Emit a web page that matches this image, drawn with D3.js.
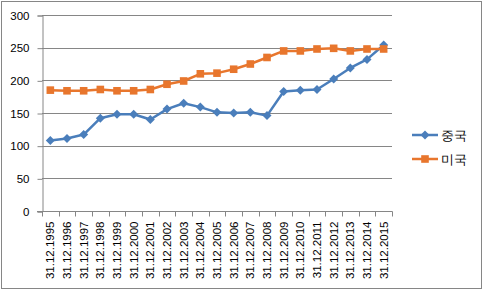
<!DOCTYPE html>
<html>
<head>
<meta charset="utf-8">
<script src="https://cdnjs.cloudflare.com/ajax/libs/d3/7.8.5/d3.min.js"></script>
<style>
  body { margin: 0; background: #fff; }
  svg text { font-family: "Liberation Sans", "DejaVu Sans", sans-serif; fill: #000; }
</style>
</head>
<body>
<div class="chart"></div>
<script>
var dates = ["31.12.1995","31.12.1996","31.12.1997","31.12.1998","31.12.1999","31.12.2000",
  "31.12.2001","31.12.2002","31.12.2003","31.12.2004","31.12.2005","31.12.2006","31.12.2007",
  "31.12.2008","31.12.2009","31.12.2010","31.12.2011","31.12.2012","31.12.2013","31.12.2014","31.12.2015"];
var china = [108,111,117,142,148,148,140,156,165,159,151,150,151,146,183,185,186,202,219,232,254];
var usa = [185,184,184,186,184,184,186,194,199,210,211,217,225,235,245,245,248,249,245,248,248];
var yTicks = [0,50,100,150,200,250,300];
var seriesNames = ["중국","미국"];
var seriesColors = ["#4A7EBB","#E8762D"];

var width = 483, height = 291;
var svg = d3.select(".chart").append("svg")
  .attr("width", width)
  .attr("height", height);

// outer frame
svg.append("rect")
  .attr("x", 1.5).attr("y", 1.5)
  .attr("width", width - 3).attr("height", height - 4)
  .attr("fill", "#fff").attr("stroke", "#868686");

var plotL = 42, plotR = 392, plotT = 15, plotB = 211;

var x = d3.scaleBand().domain(dates).range([plotL, plotR]);
var y = d3.scaleLinear().domain([0, 300]).range([plotB, plotT]);

// gridlines
svg.append("g").selectAll("line")
  .data(yTicks.filter(function(d) { return d > 0; }))
  .enter().append("line")
  .attr("x1", plotL).attr("x2", plotR)
  .attr("y1", function(d) { return Math.round(y(d)) + 0.5; })
  .attr("y2", function(d) { return Math.round(y(d)) + 0.5; })
  .attr("stroke", "#868686").attr("stroke-width", 1);

// y axis
var yAxis = svg.append("g")
  .attr("transform", "translate(" + (plotL + 0.5) + ",0.5)")
  .call(d3.axisLeft(y).tickValues(yTicks).tickSize(5).tickPadding(8));
yAxis.select(".domain").attr("stroke", "#868686");
yAxis.selectAll(".tick line").attr("stroke", "#868686");
yAxis.selectAll("text").attr("font-size", "11.5px").attr("fill", "#000")
  .attr("font-family", "Liberation Sans, DejaVu Sans, sans-serif");

// x axis with ticks between categories
var xg = svg.append("g").attr("transform", "translate(0," + (plotB + 0.5) + ")");
xg.append("line").attr("x1", plotL - 5).attr("x2", plotR + 0.5)
  .attr("stroke", "#868686");
var edges = dates.map(function(d) { return x(d); }).concat([plotR]);
xg.selectAll(".xt").data(edges).enter().append("line")
  .attr("x1", function(d) { return Math.round(d) + 0.5; })
  .attr("x2", function(d) { return Math.round(d) + 0.5; })
  .attr("y1", 0).attr("y2", 5)
  .attr("stroke", "#868686");
xg.selectAll("text").data(dates).enter().append("text")
  .attr("transform", function(d) {
    return "translate(" + (x(d) + x.bandwidth() / 2 + 4) + ",10) rotate(-90)";
  })
  .attr("text-anchor", "end")
  .attr("font-size", "11.5px")
  .text(function(d) { return d; });

// lines
var line = d3.line()
  .x(function(d, i) { return x(dates[i]) + x.bandwidth() / 2; })
  .y(function(d) { return y(d); });

[china, usa].forEach(function(vals, k) {
  svg.append("path")
    .datum(vals)
    .attr("fill", "none")
    .attr("stroke", seriesColors[k])
    .attr("stroke-width", 2.5)
    .attr("stroke-linejoin", "round")
    .attr("d", line);
});

function marker(g, k, cx, cy) {
  if (k === 0) {
    g.append("path")
      .attr("d", "M" + cx + "," + (cy - 4.5) + "L" + (cx + 4.5) + "," + cy +
        "L" + cx + "," + (cy + 4.5) + "L" + (cx - 4.5) + "," + cy + "Z")
      .attr("fill", seriesColors[k]);
  } else {
    g.append("rect")
      .attr("x", cx - 3.8).attr("y", cy - 3.8)
      .attr("width", 7.6).attr("height", 7.6)
      .attr("fill", seriesColors[k]);
  }
}

[china, usa].forEach(function(vals, k) {
  var g = svg.append("g");
  vals.forEach(function(v, i) {
    marker(g, k, x(dates[i]) + x.bandwidth() / 2, y(v));
  });
});

// legend
seriesNames.forEach(function(name, k) {
  var ly = 135 + k * 24;
  var g = svg.append("g");
  g.append("line")
    .attr("x1", 412).attr("x2", 438)
    .attr("y1", ly).attr("y2", ly)
    .attr("stroke", seriesColors[k]).attr("stroke-width", 2.5);
  marker(g, k, 425, ly);
  g.append("text")
    .attr("x", 441).attr("y", ly + 4.5)
    .attr("font-size", "12.5px")
    .attr("font-family", "Noto Sans CJK KR, sans-serif")
    .text(name);
});
</script>
</body>
</html>
